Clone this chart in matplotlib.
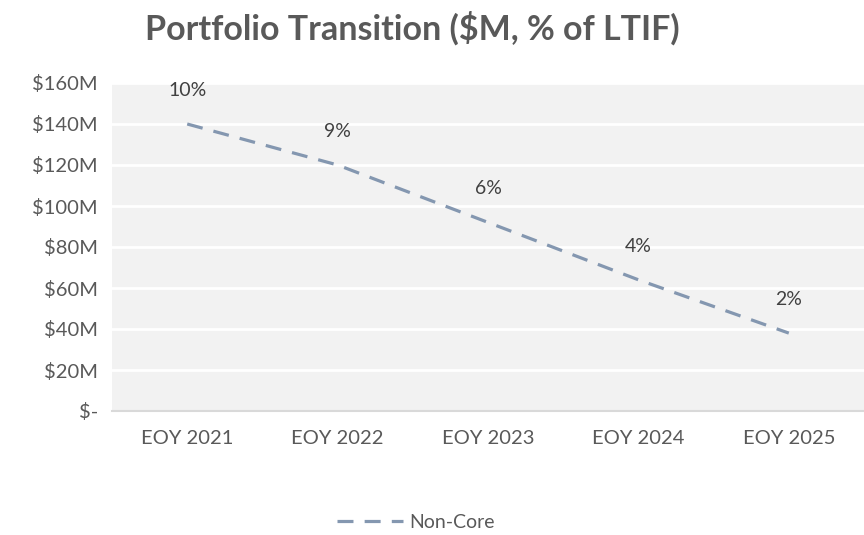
import matplotlib
matplotlib.use("Agg")
import matplotlib.pyplot as plt
from matplotlib.lines import Line2D

categories = ["EOY 2021", "EOY 2022", "EOY 2023", "EOY 2024", "EOY 2025"]
non_core = [140, 120, 92, 64, 38]  # $M
pct_labels = ["10%", "9%", "6%", "4%", "2%"]
y_ticks = [0, 20, 40, 60, 80, 100, 120, 140, 160]
y_tick_labels = ["$-", "$20M", "$40M", "$60M", "$80M", "$100M", "$120M", "$140M", "$160M"]

plt.rcParams['font.family'] = ['Lato', 'DejaVu Sans']
text_col = "#595959"
line_col = "#8497B0"

fig = plt.figure(figsize=(8.64, 5.35), dpi=100)
ax = fig.add_axes([112/864, 1-411/535, 1-112/864, (411-83)/535])
ax.set_facecolor("#F2F2F2")

x = list(range(len(categories)))
ln, = ax.plot(x, non_core, color=line_col, lw=2.3, solid_capstyle='butt')
ln.set_dashes([5, 3.5])
for xi, yi, lab in zip(x, non_core, pct_labels):
    ax.annotate(lab, (xi, yi), xytext=(0, 18), textcoords="offset points",
                ha="center", va="bottom", fontsize=14, color="#404040")

ax.set_xlim(-0.5, 4.5)
ax.set_ylim(0, 160)
ax.set_yticks(y_ticks)
ax.set_yticklabels(y_tick_labels)
ax.set_xticks(x)
ax.set_xticklabels(categories)
ax.tick_params(axis='both', length=0, labelsize=14.5, colors=text_col)
ax.tick_params(axis='y', pad=10)
ax.tick_params(axis='x', pad=14)
ax.grid(axis='y', color='white', lw=2)
ax.set_axisbelow(True)
for s in ['top', 'right', 'left']:
    ax.spines[s].set_visible(False)
ax.spines['bottom'].set_color('#D9D9D9')
ax.spines['bottom'].set_linewidth(1.5)

fig.text(412/864, 1-28/535, "Portfolio Transition ($M, % of LTIF)", ha="center", va="center",
         fontsize=24.5, fontweight="bold", color=text_col)

h = Line2D([], [], color=line_col, lw=2.3)
h.set_dashes([5, 3.5])
fig.legend([h], ["Non-Core"], loc="center", bbox_to_anchor=(416/864, 1-522/535),
           frameon=False, fontsize=14, labelcolor=text_col, handlelength=3.4, handletextpad=0.3)

fig.savefig("out.png", dpi=100)
